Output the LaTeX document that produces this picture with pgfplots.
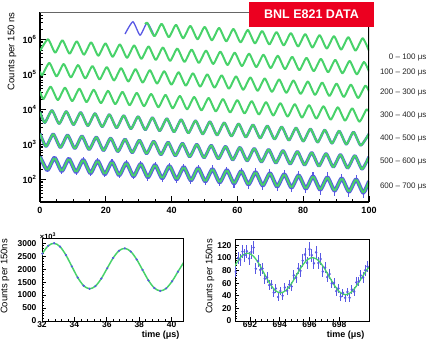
\documentclass[border=0pt]{standalone}
\usepackage{pgfplots}
\pgfplotsset{compat=1.18}
\usepackage{pgfplotstable}
\usepackage{fontspec}
\setmainfont{Liberation Sans}
\definecolor{fitgreen}{RGB}{72,210,106}
\definecolor{datblue}{RGB}{88,88,228}
\definecolor{boxred}{RGB}{236,0,32}

% top panel: log10(counts per 150 ns) versus time modulo 100 us
\pgfplotstableread{
x y
32.00 6.436
32.60 6.478
34.78 6.095
36.97 6.448
39.15 6.066
41.33 6.419
43.51 6.036
45.70 6.389
47.88 6.007
50.06 6.360
52.24 5.977
54.43 6.330
56.61 5.948
58.79 6.301
60.97 5.918
63.16 6.272
65.34 5.889
67.52 6.242
69.70 5.860
71.89 6.213
74.07 5.830
76.25 6.183
78.43 5.801
80.62 6.154
82.80 5.771
84.98 6.124
87.16 5.742
89.35 6.095
91.53 5.712
93.71 6.066
95.89 5.683
98.08 6.036
100.00 5.674
}\bandzero
\pgfplotstableread{
x y
25.85 6.158
28.24 6.507
30.42 6.124
32.60 6.478
34.78 6.095
}\bandzeroblue
\pgfplotstableread{
x y
0.00 5.674
2.44 6.007
4.62 5.624
6.81 5.977
8.99 5.595
11.17 5.948
13.35 5.565
15.54 5.918
17.72 5.536
19.90 5.889
22.08 5.506
24.27 5.859
26.45 5.477
28.63 5.830
30.81 5.447
33.00 5.801
35.18 5.418
37.36 5.771
39.54 5.389
41.73 5.742
43.91 5.359
46.09 5.712
48.27 5.330
50.46 5.683
52.64 5.300
54.82 5.653
57.00 5.271
59.19 5.624
61.37 5.241
63.55 5.595
65.73 5.212
67.92 5.565
70.10 5.183
72.28 5.536
74.46 5.153
76.65 5.506
78.83 5.124
81.01 5.477
83.19 5.094
85.38 5.447
87.56 5.065
89.74 5.418
91.92 5.035
94.11 5.388
96.29 5.006
98.47 5.359
100.00 5.086
}\bandone
\pgfplotstableread{
x y
0.00 5.086
0.65 4.976
2.84 5.330
5.02 4.947
7.20 5.300
9.38 4.918
11.57 5.271
13.75 4.888
15.93 5.241
18.11 4.859
20.30 5.212
22.48 4.829
24.66 5.182
26.84 4.800
29.03 5.153
31.21 4.770
33.39 5.124
35.57 4.741
37.76 5.094
39.94 4.711
42.12 5.065
44.30 4.682
46.49 5.035
48.67 4.653
50.85 5.006
53.03 4.623
55.22 4.976
57.40 4.594
59.58 4.947
61.76 4.564
63.95 4.917
66.13 4.535
68.31 4.888
70.49 4.505
72.68 4.859
74.86 4.476
77.04 4.829
79.22 4.446
81.41 4.800
83.59 4.417
85.77 4.770
87.95 4.387
90.14 4.741
92.32 4.358
94.50 4.711
96.68 4.329
98.87 4.682
100.00 4.517
}\bandtwo
\pgfplotstableread{
x y
0.00 4.517
1.05 4.299
3.23 4.653
5.41 4.270
7.60 4.623
9.78 4.240
11.96 4.594
14.14 4.211
16.33 4.564
18.51 4.181
20.69 4.535
22.87 4.152
25.06 4.505
27.24 4.122
29.42 4.476
31.60 4.093
33.79 4.446
35.97 4.064
38.15 4.417
40.33 4.034
42.52 4.388
44.70 4.005
46.88 4.358
49.06 3.975
51.25 4.329
53.43 3.946
55.61 4.299
57.79 3.916
59.98 4.270
62.16 3.887
64.34 4.240
66.52 3.858
68.71 4.211
70.89 3.828
73.07 4.181
75.25 3.798
77.44 4.152
79.62 3.769
81.80 4.123
83.98 3.740
86.17 4.093
88.35 3.710
90.53 4.064
92.71 3.681
94.90 4.034
97.08 3.651
99.26 4.005
100.00 3.931
}\bandthree
\pgfplotstableread{
x y
0.00 3.931
1.44 3.622
3.63 3.976
5.81 3.593
7.99 3.946
10.17 3.563
12.36 3.917
14.54 3.534
16.72 3.887
18.90 3.504
21.09 3.858
23.27 3.475
25.45 3.828
27.63 3.446
29.82 3.799
32.00 3.416
34.18 3.769
36.36 3.387
38.55 3.740
40.73 3.357
42.91 3.711
45.09 3.328
47.28 3.681
49.46 3.298
51.64 3.652
53.82 3.269
56.01 3.622
58.19 3.239
60.37 3.593
62.55 3.210
64.74 3.563
66.92 3.180
69.10 3.534
71.28 3.151
73.47 3.504
75.65 3.121
77.83 3.475
80.01 3.092
82.20 3.446
84.38 3.063
86.56 3.416
88.74 3.033
90.93 3.387
93.11 3.004
95.29 3.357
97.47 2.974
100.00 3.310
}\bandfour
\pgfplotstableread{
x y
0.00 3.310
1.84 2.945
4.02 3.298
6.20 2.915
8.39 3.269
10.57 2.886
12.75 3.240
14.93 2.857
17.12 3.210
19.30 2.827
21.48 3.181
23.66 2.798
25.85 3.151
28.03 2.768
30.21 3.122
32.39 2.739
34.58 3.092
36.76 2.709
38.94 3.063
41.12 2.680
43.31 3.033
45.49 2.650
47.67 3.004
49.85 2.621
52.04 2.975
54.22 2.592
56.40 2.945
58.58 2.562
60.77 2.916
62.95 2.533
65.13 2.886
67.31 2.503
69.50 2.857
71.68 2.474
73.86 2.827
76.04 2.444
78.23 2.798
80.41 2.415
82.59 2.768
84.77 2.385
86.96 2.739
89.14 2.356
91.32 2.710
93.50 2.327
95.69 2.680
97.87 2.297
100.00 2.651
}\bandfive
\pgfplotstableread{
x y
0.00 2.651
2.23 2.268
4.42 2.621
6.60 2.238
8.78 2.592
10.96 2.209
13.15 2.562
15.33 2.179
17.51 2.533
19.69 2.150
21.88 2.504
24.06 2.121
26.24 2.474
28.42 2.091
30.61 2.445
32.79 2.062
34.97 2.415
37.15 2.032
39.34 2.386
41.52 2.003
43.70 2.356
45.88 1.973
48.07 2.327
50.25 1.944
52.43 2.298
54.61 1.915
56.80 2.268
58.98 1.885
61.16 2.239
63.34 1.856
65.53 2.209
67.71 1.826
69.89 2.180
72.07 1.797
74.26 2.150
76.44 1.767
78.62 2.121
80.80 1.738
82.99 2.091
85.17 1.708
87.35 2.062
89.53 1.679
91.72 2.033
93.90 1.650
96.08 2.003
98.26 1.620
100.00 1.951
}\bandsix
\pgfplotstableread{
x y e
2.23 2.258 0.05
4.42 2.631 0.05
6.60 2.228 0.06
8.78 2.600 0.05
10.96 2.200 0.06
13.15 2.570 0.06
15.33 2.170 0.06
17.51 2.540 0.06
19.69 2.140 0.07
21.88 2.515 0.06
24.06 2.110 0.07
26.24 2.480 0.07
28.42 2.080 0.07
30.61 2.455 0.07
32.79 2.050 0.08
34.97 2.425 0.07
37.15 2.020 0.08
39.34 2.395 0.08
41.52 1.990 0.08
43.70 2.366 0.08
45.88 1.960 0.09
48.07 2.338 0.08
50.25 1.930 0.09
52.43 2.310 0.09
54.61 1.900 0.10
56.80 2.280 0.09
58.98 1.870 0.10
61.16 2.252 0.09
63.34 1.840 0.10
65.53 2.222 0.10
67.71 1.810 0.11
69.89 2.195 0.10
72.07 1.780 0.11
74.26 2.165 0.10
76.44 1.750 0.12
78.62 2.136 0.11
80.80 1.720 0.12
82.99 2.110 0.11
85.17 1.690 0.12
87.35 2.080 0.12
89.53 1.660 0.13
91.72 2.050 0.12
93.90 1.630 0.13
96.08 2.020 0.12
98.26 1.600 0.14
}\bandsixdata

% bottom left: counts per 150 ns in thousands
\pgfplotstableread{
x y
31.659 2177.6
32.023 2598.4
32.386 2899.0
32.750 2997.4
33.114 2866.4
33.478 2540.4
33.841 2105.0
34.205 1674.5
34.569 1360.3
34.933 1241.8
35.296 1345.1
35.660 1637.2
36.024 2034.8
36.388 2428.0
36.751 2709.0
37.115 2800.9
37.479 2678.4
37.843 2373.9
38.206 1967.0
38.570 1564.7
38.934 1271.2
39.298 1160.4
39.661 1257.0
40.025 1529.8
40.389 1901.5
40.753 2268.9
}\lowleft

% bottom right: fit and data
\pgfplotstableread{
x y
690.774 78.17
691.138 93.28
691.501 104.07
691.865 107.60
692.229 102.90
692.593 91.20
692.956 75.57
693.320 60.12
693.684 48.84
694.048 44.58
694.411 48.29
694.775 58.78
695.139 73.05
695.503 87.17
695.866 97.25
696.230 100.55
696.594 96.16
696.958 85.22
697.321 70.62
697.685 56.18
698.049 45.64
698.413 41.66
698.776 45.13
699.140 54.93
699.504 68.27
699.868 81.47
700.231 90.90
}\lowrightfit
\pgfplotstableread{
x y e
691.05 78 8.8
691.20 99.6 10
691.35 97 9.8
691.50 110 10.5
691.65 104.5 10.2
691.80 110.6 10.5
691.95 99 9.9
692.10 109.5 10.5
692.25 116.4 10.8
692.40 83 9.1
692.55 95 9.7
692.70 81 9.0
692.85 83 9.1
693.00 67 8.2
693.15 69 8.3
693.30 57 7.5
693.45 58 7.6
693.60 45 6.7
693.75 51.5 7.2
693.90 38 6.2
694.05 47.6 6.9
694.20 40 6.3
694.35 53 7.3
694.50 48 6.9
694.65 57.6 7.6
694.80 54.7 7.4
694.95 72.4 8.5
695.10 68.5 8.3
695.25 83.6 9.1
695.40 79.4 8.9
695.55 95.8 9.8
695.70 105.4 10.3
695.85 92 9.6
696.00 114 10.7
696.15 104.5 10.2
696.30 91.4 9.6
696.45 108.8 10.4
696.60 92 9.6
696.75 98.2 9.9
696.90 78.3 8.8
697.05 84.8 9.2
697.20 69.7 8.3
697.35 74.4 8.6
697.50 59.3 7.7
697.65 60.5 7.8
697.80 47.3 6.9
697.95 51.9 7.2
698.10 38.7 6.2
698.25 44.5 6.7
698.40 36.7 6.1
698.55 46.1 6.8
698.70 36.8 6.1
698.85 49.7 7.0
699.00 46.6 6.8
699.15 61.3 7.8
699.30 62.6 7.9
699.45 72.3 8.5
699.60 68.9 8.3
699.75 80.5 9.0
699.90 86.6 9.3
}\lowrightdata

\pgfplotsset{
  fitline/.style={fitgreen, line width=2pt, smooth, tension=0.35, line join=round, mark=none},
  halo/.style={datblue, line width=#1, smooth, tension=0.35, line join=round, mark=none},
}

\begin{document}
\begin{tikzpicture}[x=1pt,y=1pt]
\useasboundingbox (0,0) rectangle (433,340);

% ---------------- top panel ----------------
\begin{axis}[
  at={(40pt,138pt)}, anchor=south west, scale only axis,
  width=329pt, height=190pt,
  xmin=0, xmax=100, ymin=1.357, ymax=6.786,
  axis x line*=bottom, axis y line*=left,
  axis line style={line width=1.3pt, -},
  xtick={0,20,...,100}, minor x tick num=3,
  ytick={2,3,4,5,6},
  yticklabels={10\textsuperscript{2},10\textsuperscript{3},10\textsuperscript{4},10\textsuperscript{5},10\textsuperscript{6}},
  minor ytick={1.477,1.602,1.699,1.778,1.845,1.903,1.954,
    2.301,2.477,2.602,2.699,2.778,2.845,2.903,2.954,
    3.301,3.477,3.602,3.699,3.778,3.845,3.903,3.954,
    4.301,4.477,4.602,4.699,4.778,4.845,4.903,4.954,
    5.301,5.477,5.602,5.699,5.778,5.845,5.903,5.954,
    6.301,6.477,6.602,6.699,6.778},
  tick align=inside,
  major tick length=6pt, minor tick length=3pt,
  tick style={black, line width=0.8pt},
  tick label style={font=\bfseries\fontsize{9}{10}\selectfont},
  xticklabel style={yshift=-2pt},
  /pgf/number format/assume math mode=true,
]
\addplot[datblue, line width=1.3pt, smooth, tension=0.35, mark=none] table {\bandzeroblue};
\addplot[halo=2.5pt] table {\bandfour};
\addplot[halo=3.1pt] table {\bandfive};
\addplot[halo=3.9pt] table {\bandsix};
\addplot[datblue, only marks, mark=*, mark size=0.6pt,
  error bars/.cd, y dir=both, y explicit, error mark=none,
  error bar style={datblue, line width=1.1pt}] table[x=x, y=y, y error=e] {\bandsixdata};
\addplot[fitline] table {\bandzero};
\addplot[fitline] table {\bandone};
\addplot[fitline] table {\bandtwo};
\addplot[fitline] table {\bandthree};
\addplot[fitline] table {\bandfour};
\addplot[fitline] table {\bandfive};
\addplot[fitline] table {\bandsix};
\draw[gray!80!black, line width=0.8pt] (rel axis cs:0,1) -- (rel axis cs:1,1);
\draw[black, line width=1.1pt] (rel axis cs:1,1) -- (rel axis cs:1,0);
\end{axis}

\node[rotate=90, font=\fontsize{9.5}{11}\selectfont] at (12,288.5) {Counts per 150 ns};
\node[fill=boxred, text=white, font=\bfseries\fontsize{12.5}{14}\selectfont,
  minimum width=125pt, minimum height=25pt, inner sep=0pt] at (311.5,325.5) {BNL E821 DATA};

\begin{scope}[every node/.style={anchor=east, font=\fontsize{8}{9}\selectfont, text=black!85}]
\node at (430,283) {0 – 100 μs};
\node at (430,268) {100 – 200 μs};
\node at (430,248) {200 – 300 μs};
\node at (430,224.5) {300 – 400 μs};
\node at (430,201.7) {400 – 500 μs};
\node at (430,178.3) {500 – 600 μs};
\node at (430,154) {600 – 700 μs};
\end{scope}

% ---------------- bottom left ----------------
\begin{axis}[
  at={(42pt,19pt)}, anchor=south west, scale only axis,
  width=141pt, height=83pt,
  xmin=32, xmax=40.7, ymin=0, ymax=3200,
  xtick={32,34,...,40}, minor x tick num=4,
  ytick={0,500,...,3000}, minor y tick num=4,
  tick pos=left, tick align=inside,
  major tick length=4pt, minor tick length=2pt,
  tick style={black, line width=0.7pt},
  axis line style={line width=0.8pt},
  scaled ticks=false,
  /pgf/number format/1000 sep={},
  /pgf/number format/assume math mode=true,
  tick label style={font=\bfseries\fontsize{8.5}{9}\selectfont},
  xticklabel style={yshift=2.5pt},
  yticklabel style={xshift=-2pt},
]
\addplot[datblue, only marks, mark=*, mark size=0.9pt] table {\lowleft};
\addplot[fitgreen, line width=1.5pt, smooth, mark=none] table {\lowleft};
\end{axis}
\node[font=\bfseries\fontsize{7.5}{8}\selectfont] at (48,104) {×10\textsuperscript{3}};
\node[rotate=90, font=\fontsize{9.5}{11}\selectfont] at (5,63.5) {Counts per 150ns};
\node[anchor=east, font=\bfseries\fontsize{9}{10}\selectfont] at (183,4.5) {time (μs)};

% ---------------- bottom right ----------------
\begin{axis}[
  at={(235pt,19pt)}, anchor=south west, scale only axis,
  width=134pt, height=82pt,
  xmin=691, xmax=700, ymin=0, ymax=130,
  xtick={692,694,696,698}, minor x tick num=4,
  ytick={0,20,...,120}, minor y tick num=4,
  tick pos=left, tick align=inside,
  major tick length=4pt, minor tick length=2pt,
  tick style={black, line width=0.7pt},
  axis line style={line width=0.8pt},
  scaled ticks=false,
  /pgf/number format/1000 sep={},
  /pgf/number format/assume math mode=true,
  tick label style={font=\bfseries\fontsize{8.5}{9}\selectfont},
  xticklabel style={yshift=2.5pt},
]
\addplot[datblue, only marks, mark=*, mark size=1.0pt,
  error bars/.cd, y dir=both, y explicit, error mark=none,
  error bar style={datblue, line width=0.9pt}] table[x=x, y=y, y error=e] {\lowrightdata};
\addplot[fitgreen, line width=1.3pt, smooth, mark=none] table {\lowrightfit};
\end{axis}
\node[rotate=90, font=\fontsize{9.5}{11}\selectfont] at (210,63.5) {Counts per 150ns};
\node[anchor=east, font=\bfseries\fontsize{9}{10}\selectfont] at (368,4.5) {time (μs)};
\end{tikzpicture}
\end{document}
